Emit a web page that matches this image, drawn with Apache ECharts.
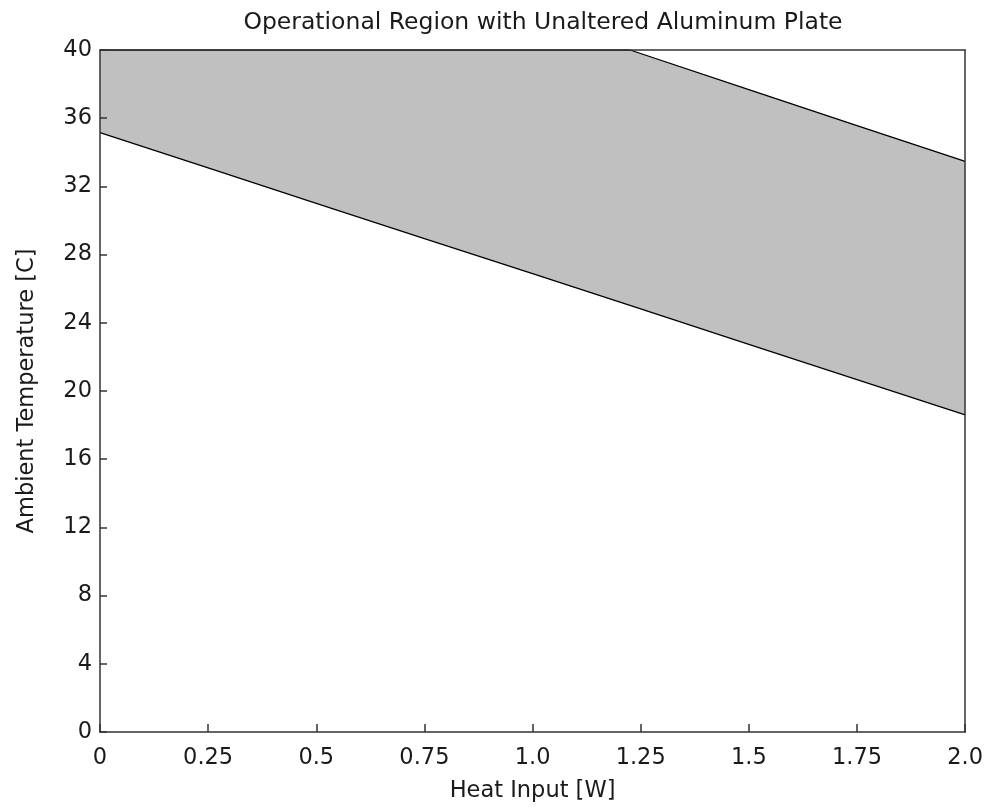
<!DOCTYPE html>
<html>
<head>
<meta charset="utf-8">
<script src="https://cdn.jsdelivr.net/npm/echarts@6/dist/echarts.min.js"></script>
<style>html,body{margin:0;padding:0;background:#fff;}#c{width:986px;height:808px;}</style>
</head>
<body>
<div id="c"></div>
<script>
// Heat input [W] sample points for the lower operating limit
const heatInput = [0, 0.25, 0.5, 0.75, 1.0, 1.25, 1.5, 1.75, 2.0];
// Lower boundary of operational region (Ambient temperature, C)
const lowerLimit = [35.15, 33.08, 31.01, 28.94, 26.88, 24.81, 22.74, 20.67, 18.60];
// Upper boundary of operational region (clipped at 40 C)
const upperHeat = [0, 1.2255, 1.5, 1.75, 2.0];
const upperLimit = [40, 40, 37.67, 35.57, 33.47];
// Tick labels
const xTickLabels = ['0', '0.25', '0.5', '0.75', '1.0', '1.25', '1.5', '1.75', '2.0'];
const yTickLabels = ['0', '4', '8', '12', '16', '20', '24', '28', '32', '36', '40'];

const FONT = 'DejaVu Sans';
const TXT = '#1a1a1a';
const AX = '#333333';
const FS = 22.5;

const upperData = upperHeat.map((x, i) => [x, upperLimit[i]]);
const lowerData = heatInput.map((x, i) => [x, lowerLimit[i]]);

const chart = echarts.init(document.getElementById('c'), null, {renderer: 'canvas'});
chart.setOption({
  animation: false,
  backgroundColor: '#ffffff',
  title: {
    text: 'Operational Region with Unaltered Aluminum Plate',
    left: 538, top: 6, textAlign: 'center',
    textStyle: {fontFamily: FONT, fontSize: 23.5, fontWeight: 'normal', color: TXT}
  },
  grid: {left: 100, right: 19, top: 50, bottom: 74, containLabel: false},
  xAxis: [{
    type: 'value', min: 0, max: 2, interval: 0.25, z: 10,
    name: 'Heat Input [W]', nameLocation: 'middle', nameGap: 48,
    nameTextStyle: {fontFamily: FONT, fontSize: FS, color: TXT},
    axisLine: {show: true, onZero: false, lineStyle: {color: AX, width: 1.5}},
    axisTick: {show: true, inside: true, length: 8, lineStyle: {color: AX, width: 1.5}},
    axisLabel: {fontFamily: FONT, fontSize: FS, color: TXT, margin: 15,
      formatter: (v, i) => xTickLabels[i] !== undefined ? xTickLabels[i] : String(v)},
    splitLine: {show: false}
  }, {
    type: 'value', position: 'top', min: 0, max: 2, z: 10,
    axisLine: {show: true, onZero: false, lineStyle: {color: AX, width: 1.5}},
    axisTick: {show: false}, axisLabel: {show: false}, splitLine: {show: false}
  }],
  yAxis: [{
    type: 'value', min: 0, max: 40, interval: 4, z: 10,
    name: 'Ambient Temperature [C]', nameLocation: 'middle', nameGap: 61,
    nameTextStyle: {fontFamily: FONT, fontSize: FS, color: TXT},
    axisLine: {show: true, onZero: false, lineStyle: {color: AX, width: 1.5}},
    axisTick: {show: true, inside: true, length: 7, lineStyle: {color: AX, width: 1.5}},
    axisLabel: {fontFamily: FONT, fontSize: FS, color: TXT, margin: 8,
      formatter: (v, i) => yTickLabels[i] !== undefined ? yTickLabels[i] : String(v)},
    splitLine: {show: false}
  }, {
    type: 'value', position: 'right', min: 0, max: 40, z: 10,
    axisLine: {show: true, onZero: false, lineStyle: {color: AX, width: 1.5}},
    axisTick: {show: false}, axisLabel: {show: false}, splitLine: {show: false}
  }],
  series: [{
    type: 'line', name: 'upper', data: upperData, symbol: 'none', z: 2,
    lineStyle: {color: '#000', width: 1.3},
    areaStyle: {color: '#c0c0c0', opacity: 1, origin: 'start'}
  }, {
    type: 'line', name: 'lower', data: lowerData, symbol: 'none', z: 3,
    lineStyle: {color: '#000', width: 1.3},
    areaStyle: {color: '#ffffff', opacity: 1, origin: 'start'}
  }]
});
</script>
</body>
</html>
